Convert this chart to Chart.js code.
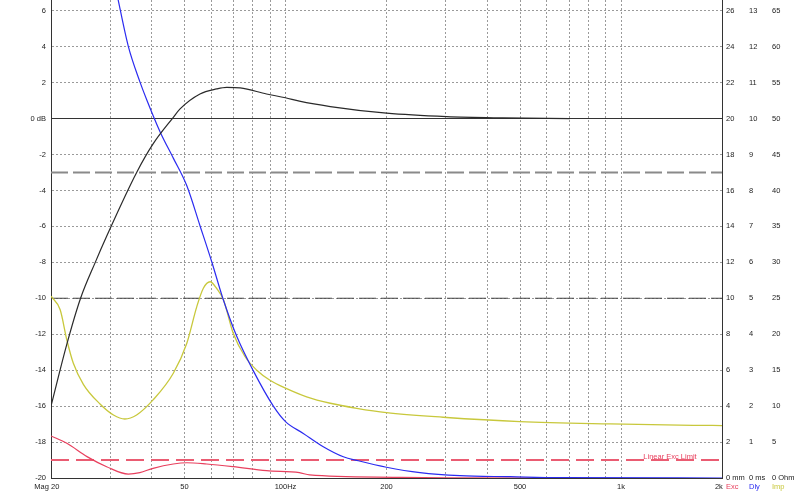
<!DOCTYPE html>
<html><head><meta charset="utf-8">
<script src="https://cdn.jsdelivr.net/npm/chart.js@4.4.1/dist/chart.umd.min.js"></script>
<style>html,body{margin:0;padding:0;background:#fff;}#wrap{width:800px;height:502px;}</style>
</head><body><div id="wrap"><canvas id="c" width="800" height="502"></canvas></div>
<script>
// ---- data ----
const splFreq = [20, 22.3, 24.5, 27.1, 29.3, 36, 40.3, 46.3, 48.5, 55.6, 62.3, 66.8, 73.3, 87.8, 100, 110, 136, 200, 302, 444, 704];
const splDb   = [-16.0, -12.55, -10.0, -8.0, -6.55, -3.0, -1.41, 0.07, 0.54, 1.37, 1.65, 1.74, 1.71, 1.37, 1.16, 0.97, 0.67, 0.30, 0.11, 0.04, 0.0];

const dlyFreq = [30, 31.7, 34.0, 36.8, 38.6, 42.3, 46.3, 50.8, 55.6, 60.3, 65.0, 71.5, 80.2, 92.0, 100, 113, 129.6, 148.7, 164.8, 200, 251.7, 331, 467, 658, 2000];
const dlyMs   = [14.4, 13.31, 12.01, 11.03, 10.52, 9.63, 8.90, 8.13, 7.02, 6.01, 5.01, 3.95, 2.98, 2.0, 1.57, 1.24, 0.87, 0.59, 0.48, 0.30, 0.15, 0.064, 0.036, 0.01, 0.0];

const impFreq = [20, 21.3, 22.3, 23.3, 25.0, 28.0, 30.7, 33.2, 36.0, 40.3, 46.3, 50.8, 54.4, 56.9, 59.6, 62.3, 65.3, 69.9, 75.7, 82.1, 89.9, 100, 115.6, 136, 163, 200, 295, 500, 928, 1642, 2000];
const impOhm  = [25.3, 23.4, 19.2, 16.0, 13.0, 10.3, 8.77, 8.21, 8.77, 10.86, 14.57, 18.75, 23.85, 26.4, 27.3, 26.4, 24.8, 20.1, 16.9, 15.0, 13.6, 12.5, 11.3, 10.4, 9.7, 9.09, 8.45, 7.84, 7.52, 7.33, 7.3];

const excFreq = [20, 22.3, 25.6, 29.3, 34.0, 36.8, 40.3, 46.3, 50.8, 58.2, 69.9, 87.8, 110, 118, 209, 302, 760];
const excMm   = [2.34, 1.93, 1.19, 0.63, 0.22, 0.30, 0.54, 0.78, 0.85, 0.78, 0.63, 0.41, 0.30, 0.17, 0.04, 0.01, 0.0];

const refFreq = [20, 2000];
const minus3Db = [-3, -3];
const minus10Db = [-10, -10];
const excLimitMm = [1, 1];
const excLimitLabel = 'Linear Exc Limit';

const dbTicks  = [-20, -18, -16, -14, -12, -10, -8, -6, -4, -2, 0, 2, 4, 6];
const mmTicks  = [0, 2, 4, 6, 8, 10, 12, 14, 16, 18, 20, 22, 24, 26];
const msTicks  = [0, 1, 2, 3, 4, 5, 6, 7, 8, 9, 10, 11, 12, 13];
const ohmTicks = [0, 5, 10, 15, 20, 25, 30, 35, 40, 45, 50, 55, 60, 65];
const freqGrid = [20, 30, 40, 50, 60, 70, 80, 90, 100, 200, 300, 400, 500, 600, 700, 800, 900, 1000, 2000];
const freqLabelValues = [20, 50, 100, 200, 500, 1000, 2000];
const freqLabelTexts  = ['Mag 20    ', '50', '100Hz', '200', '500', '1k', '2k   '];
const axisNames = ['Exc', 'Dly', 'Imp'];

// ---- chart ----
const FONT = {family: 'Liberation Sans, Arial, sans-serif', size: 7.5};
const TXT = '#222';
const pts = (xs, ys) => xs.map((x, i) => ({x: x, y: ys[i]}));
const COL = {spl: '#2a2a2a', dly: '#2b2bf0', imp: '#c8c83c', exc: '#e8405e', lim: '#ea5c72'};

const fixTicks = (vals) => (s) => { s.ticks = vals.map(v => ({value: v})); };

const labelPlugin = {
  id: 'labels',
  afterDraw(chart) {
    const ctx = chart.ctx, a = chart.chartArea;
    ctx.save();
    ctx.font = '7.5px "Liberation Sans", Arial, sans-serif';
    ctx.textBaseline = 'top';
    ctx.textAlign = 'left';
    const names = ['yExc', 'yDly', 'yImp'];
    const cols = [COL.exc, COL.dly, COL.imp];
    names.forEach((n, i) => {
      const s = chart.scales[n];
      ctx.fillStyle = cols[i];
      ctx.fillText(axisNames[i], s.left + 4, a.bottom + 5);
    });
    const ys = chart.scales.yExc.getPixelForValue(excLimitMm[0]);
    const xs = chart.scales.x.getPixelForValue(1400);
    ctx.fillStyle = '#e8405e';
    ctx.textAlign = 'center';
    ctx.textBaseline = 'bottom';
    ctx.fillText(excLimitLabel, xs, ys + 1);
    ctx.restore();
  }
};

new Chart(document.getElementById('c'), {
  type: 'line',
  data: {
    datasets: [
      {label: 'SPL', data: pts(splFreq, splDb), yAxisID: 'y', borderColor: COL.spl, borderWidth: 1.2, order: 1},
      {label: 'Delay', data: pts(dlyFreq, dlyMs), yAxisID: 'yDly', borderColor: COL.dly, borderWidth: 1.2, order: 2},
      {label: 'Impedance', data: pts(impFreq, impOhm), yAxisID: 'yImp', borderColor: COL.imp, borderWidth: 1.3, order: 3},
      {label: 'Excursion', data: pts(excFreq, excMm), yAxisID: 'yExc', borderColor: COL.exc, borderWidth: 1.2, order: 4},
      {label: '-3 dB', data: pts(refFreq, minus3Db), yAxisID: 'y', borderColor: '#8a8a8a', borderWidth: 1.8, borderDash: [17, 5], order: 6},
      {label: '-10 dB', data: pts(refFreq, minus10Db), yAxisID: 'y', borderColor: '#444', borderWidth: 1.1, borderDash: [17, 5], order: 7},
      {label: 'Exc limit', data: pts(refFreq, excLimitMm), yAxisID: 'yExc', borderColor: COL.lim, borderWidth: 2, borderDash: [18, 7], order: 5}
    ]
  },
  options: {
    responsive: false,
    animation: false,
    events: [],
    layout: {padding: 0, autoPadding: false},
    elements: {point: {radius: 0}, line: {cubicInterpolationMode: 'monotone', fill: false}},
    plugins: {legend: {display: false}, tooltip: {enabled: false}},
    scales: {
      x: {
        type: 'logarithmic', min: 20, max: 2000, position: 'bottom',
        afterBuildTicks: fixTicks(freqGrid),
        afterFit: (s) => { s.height = 24; s.paddingLeft = 0; s.paddingRight = 0; },
        ticks: {
          autoSkip: false, maxRotation: 0, minRotation: 0, padding: 4, color: TXT, font: FONT,
          callback: (v) => { const i = freqLabelValues.indexOf(v); return i >= 0 ? freqLabelTexts[i] : ''; }
        },
        grid: {color: '#9a9a9a', lineWidth: 1, drawTicks: false},
        border: {display: true, color: '#333', width: 1, dash: [2, 2]}
      },
      y: {
        type: 'linear', min: -20, max: 6.6, position: 'left',
        afterBuildTicks: fixTicks(dbTicks),
        afterFit: (s) => { s.width = 51; s.paddingTop = 0; s.paddingBottom = 0; },
        ticks: {padding: 5, color: TXT, font: FONT, callback: (v) => v === 0 ? '0 dB' : String(v)},
        grid: {
          drawTicks: false,
          color: (c) => (c.tick && c.tick.value === 0) ? '#333' : '#9a9a9a',
          lineWidth: 1
        },
        border: {display: true, color: '#333', width: 1, dash: (c) => (c.tick && c.tick.value === 0) ? [] : [2, 2]}
      },
      yExc: {
        type: 'linear', min: 0, max: 26.6, position: 'right', weight: 0,
        afterBuildTicks: fixTicks(mmTicks),
        afterFit: (s) => { s.width = 23; s.paddingTop = 0; s.paddingBottom = 0; },
        ticks: {padding: 4, color: TXT, font: FONT, callback: (v) => v === 0 ? '0 mm' : String(v)},
        grid: {display: false, drawTicks: false},
        border: {display: true, color: '#333', width: 1}
      },
      yDly: {
        type: 'linear', min: 0, max: 13.3, position: 'right', weight: 1,
        afterBuildTicks: fixTicks(msTicks),
        afterFit: (s) => { s.width = 23; s.paddingTop = 0; s.paddingBottom = 0; },
        ticks: {padding: 4, color: TXT, font: FONT, callback: (v) => v === 0 ? '0 ms' : String(v)},
        grid: {display: false, drawTicks: false},
        border: {display: false}
      },
      yImp: {
        type: 'linear', min: 0, max: 66.5, position: 'right', weight: 2,
        afterBuildTicks: fixTicks(ohmTicks),
        afterFit: (s) => { s.width = 32; s.paddingTop = 0; s.paddingBottom = 0; },
        ticks: {padding: 4, color: TXT, font: FONT, callback: (v) => v === 0 ? '0 Ohm' : String(v)},
        grid: {display: false, drawTicks: false},
        border: {display: false}
      }
    }
  },
  plugins: [labelPlugin]
});
</script></body></html>
